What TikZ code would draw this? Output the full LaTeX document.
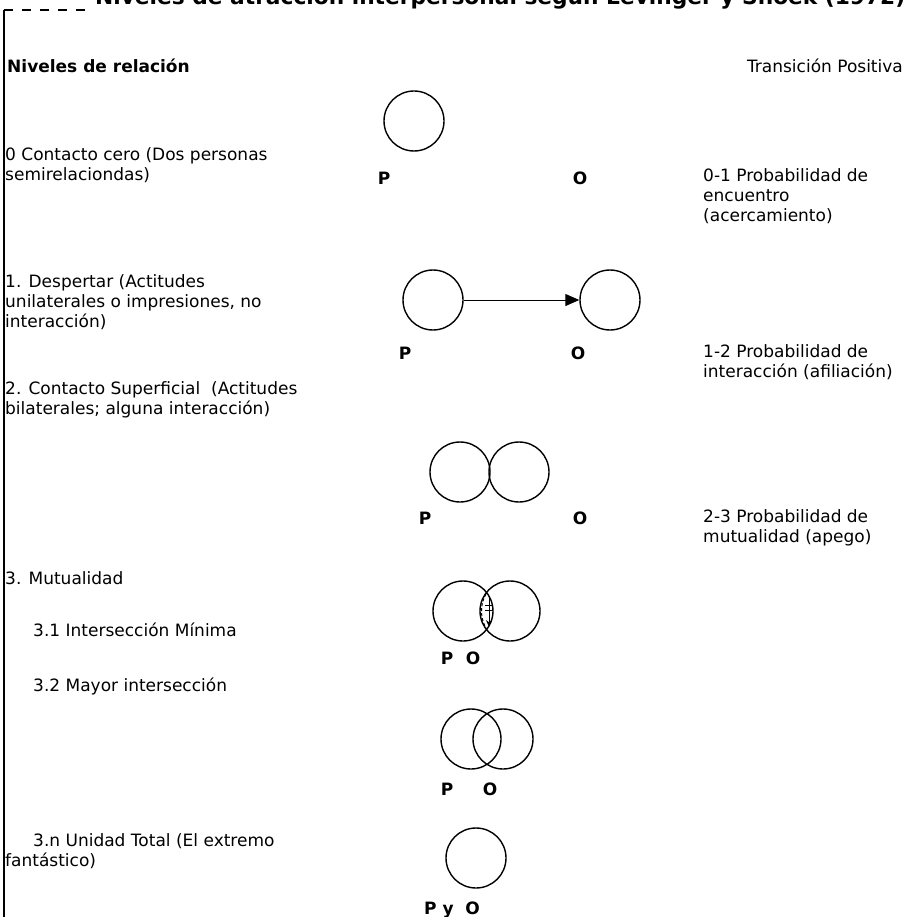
\documentclass[tikz,border=0pt]{standalone}
\usepackage{fontspec}
\setmainfont{DejaVu Sans}
\usepackage{graphicx}
\usetikzlibrary{arrows.meta,positioning}

\begin{document}
\begin{tikzpicture}[x=1pt, y=-1pt, on grid, >={Triangle[length=14pt,width=12pt]},
  persona/.style={draw, circle, minimum size=60pt, inner sep=0pt, line width=1.4pt},
  letra/.style={font=\fontsize{17}{20}\selectfont\bfseries, inner sep=0pt},
  texto/.style={font=\fontsize{17}{20}\selectfont, align=left, anchor=north west, inner sep=0pt}]

        \useasboundingbox (0,0) rectangle (909,917);

        % titulo cortado arriba
        \begin{scope}
            \clip (0,0) rectangle (909,10);
            \node[anchor=base west, inner sep=0pt, font=\bfseries] (titulo) at (95,5)
                {\resizebox{810pt}{!}{\underline{Niveles de atracción interpersonal según Levinger y Snoek (1972)}}};
        \end{scope}
        \draw[line width=1.4pt] (4,10) -- (4,917);
        \draw[line width=1.4pt, dash pattern=on 9pt off 9pt] (4,10) -- (85,10);

        \node[texto, font=\fontsize{17}{20}\selectfont\bfseries] (niveles) at (7,59) {Niveles de relación};
        \node[texto, anchor=north east] (transicion) at (903,59) {Transición Positiva};

        % niveles (izquierda)
        \node[texto] (nivel_0)  at (5,147)  {0 Contacto cero (Dos personas\\semirelaciondas)};
        \node[texto] (nivel_1)  at (5,274)  {1. Despertar (Actitudes\\unilaterales o impresiones, no\\interacción)};
        \node[texto] (nivel_2)  at (5,381)  {2. Contacto Superficial~ (Actitudes\\bilaterales; alguna interacción)};
        \node[texto] (nivel_3)  at (5,571)  {3. Mutualidad};
        \node[texto] (nivel_31) at (33,623) {3.1 Intersección Mínima};
        \node[texto] (nivel_32) at (33,678) {3.2 Mayor intersección};
        \node[texto] (nivel_3n) at (5,833)  {\hspace*{28pt}3.n Unidad Total (El extremo\\fantástico)};

        % transiciones (derecha)
        \node[texto] (trans_01) at (703,168) {0-1 Probabilidad de\\encuentro\\(acercamiento)};
        \node[texto] (trans_12) at (703,344) {1-2 Probabilidad de\\interacción (afiliación)};
        \node[texto] (trans_23) at (703,509) {2-3 Probabilidad de\\mutualidad (apego)};

        % P y O
        \node[persona] (p_0)                      at (414,121) {};
        \node[letra]   (lp_0) at (384,178) {P};
        \node[letra]   (lo_0) at (580,178) {O};

        \node[persona] (p_1)                      at (433,300) {};
        \node[persona] (o_1)  [right=177pt of p_1]             {};
        \node[letra]   (lp_1) at (405,353) {P};
        \node[letra]   (lo_1) at (578,353) {O};
        \draw[->, line width=1pt] (p_1) -- (o_1);

        \node[persona] (p_2)                      at (460,472) {};
        \node[persona] (o_2)  [right=59pt of p_2]              {};
        \node[letra]   (lp_2) at (425,518) {P};
        \node[letra]   (lo_2) at (580,518) {O};

        \node[persona] (p_31)                     at (463,611) {};
        \node[persona] (o_31) [right=47pt of p_31]             {};
        \node[letra]   (lp_31) at (447,658) {P};
        \node[letra]   (lo_31) at (473,658) {O};
        \coordinate (m_arriba) at (489,596);
        \coordinate (m_abajo)  at (489,627);
        \draw[-{Stealth[length=7pt,width=6pt]}, line width=1pt] (m_arriba) -- (m_abajo);
        \draw[line width=1pt] (485,605) -- (493,605) (485,610) -- (493,610);
        \draw[densely dashed, line width=1pt] (486,594) .. controls (480,604) and (480,618) .. (486,628);

        \node[persona] (p_32)                     at (471,739) {};
        \node[persona] (o_32) [right=32pt of p_32]             {};
        \node[letra]   (lp_32) at (447,789) {P};
        \node[letra]   (lo_32) at (490,789) {O};

        \node[persona] (u_3n)                     at (476,858) {};
        \node[letra]   (lpo_3n) at (452,910) {P y~ O};
\end{tikzpicture}
\end{document}
